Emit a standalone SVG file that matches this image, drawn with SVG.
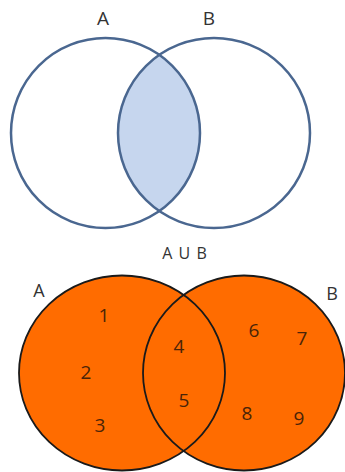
<svg xmlns="http://www.w3.org/2000/svg" width="345" height="472" viewBox="0 0 345 472">
<style>
.lbl{font-family:"Open Sans","Liberation Sans",sans-serif;fill:#333;text-anchor:middle}
.top{fill:none;stroke:#4a6790;stroke-width:2.5}
.bot{fill:#ff6c00;stroke:#1a1a1a;stroke-width:1.8}
.num{font-family:"Open Sans","Liberation Sans",sans-serif;font-size:19px;fill:#4a2408;text-anchor:middle}
</style>
<defs>
<clipPath id="clipA"><ellipse cx="105.5" cy="133" rx="94.5" ry="95"/></clipPath>
</defs>
<rect width="345" height="472" fill="#fff"/>
<g id="top-intersection">
<ellipse cx="214" cy="133" rx="96" ry="95" fill="#c6d6ee" clip-path="url(#clipA)"/>
</g>
<g id="top-A">
<ellipse class="top" cx="105.5" cy="133" rx="94.5" ry="95"/>
<text class="lbl" x="103" y="25" font-size="19">A</text>
</g>
<g id="top-B">
<ellipse class="top" cx="214" cy="133" rx="96" ry="95"/>
<text class="lbl" x="209" y="25" font-size="19">B</text>
</g>
<text class="lbl" x="185" y="259" font-size="16" letter-spacing="1">A U B</text>
<g id="bottom-fill">
<ellipse cx="122" cy="373" rx="103" ry="97.5" fill="#ff6c00"/>
<ellipse cx="244" cy="373" rx="101" ry="97.5" fill="#ff6c00"/>
</g>
<g id="bottom-A">
<ellipse cx="122" cy="373" rx="103" ry="97.5" fill="none" stroke="#1a1a1a" stroke-width="1.8"/>
<text class="lbl" x="39" y="297" font-size="18">A</text>
</g>
<g id="bottom-B">
<ellipse cx="244" cy="373" rx="101" ry="97.5" fill="none" stroke="#1a1a1a" stroke-width="1.8"/>
<text class="lbl" x="332" y="300" font-size="18">B</text>
</g>
<g id="elements">
<text class="num" x="104" y="322">1</text>
<text class="num" x="86" y="379">2</text>
<text class="num" x="100" y="432">3</text>
<text class="num" x="179" y="353">4</text>
<text class="num" x="184" y="407">5</text>
<text class="num" x="254" y="337">6</text>
<text class="num" x="302" y="345">7</text>
<text class="num" x="247" y="420">8</text>
<text class="num" x="299" y="425">9</text>
</g>
</svg>
